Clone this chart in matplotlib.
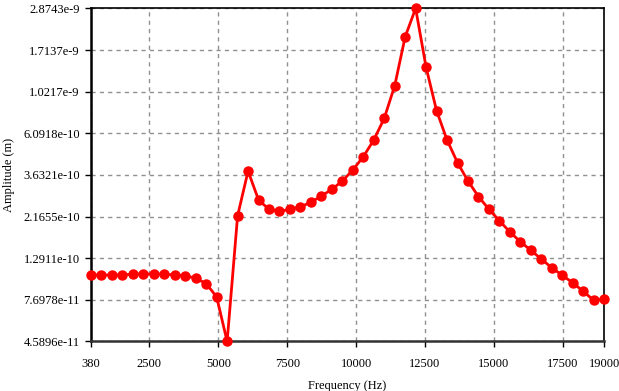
import matplotlib
matplotlib.use("Agg")
import matplotlib.pyplot as plt
import numpy as np

plt.rcParams['font.family'] = ['Liberation Serif', 'DejaVu Serif']

freq = [380 * k for k in range(1, 51)]
amp = [1.048e-10, 1.048e-10, 1.048e-10, 1.048e-10, 1.061e-10, 1.061e-10, 1.061e-10, 1.061e-10,
       1.048e-10, 1.039e-10, 1.006e-10, 9.43e-11, 7.975e-11, 4.5896e-11, 2.188e-10, 3.812e-10,
       2.660e-10, 2.369e-10, 2.311e-10, 2.369e-10, 2.447e-10, 2.584e-10, 2.795e-10, 3.037e-10,
       3.367e-10, 3.860e-10, 4.553e-10, 5.602e-10, 7.334e-10, 1.099e-9, 2.020e-9, 2.8743e-9,
       1.381e-9, 8.059e-10, 5.602e-10, 4.226e-10, 3.367e-10, 2.777e-10, 2.369e-10, 2.057e-10,
       1.788e-10, 1.585e-10, 1.424e-10, 1.278e-10, 1.147e-10, 1.044e-10, 9.525e-11, 8.560e-11,
       7.655e-11, 7.780e-11]

xticks = [380, 2500, 5000, 7500, 10000, 12500, 15000, 17500, 19000]
ytick_labels = ["4.5896e-11", "7.6978e-11", "1.2911e-10", "2.1655e-10", "3.6321e-10",
                "6.0918e-10", "1.0217e-9", "1.7137e-9", "2.8743e-9"]
yticks = [float(s) for s in ytick_labels]

fig = plt.figure(figsize=(6.19, 3.91), dpi=100)
ax = fig.add_axes([0.147, 0.1266, 0.829, 0.852])

ax.plot(freq, amp, color='#ff0000', linewidth=2, marker='o', markersize=6.5,
        markeredgecolor='#ff0000', clip_on=False, zorder=5)

ax.set_yscale('log')
ax.set_xlim(380, 19000)
ax.set_ylim(yticks[0], yticks[-1])
ax.set_yticks(yticks)
ax.set_yticklabels(ytick_labels)
ax.yaxis.set_minor_locator(matplotlib.ticker.NullLocator())
ax.set_xticks(xticks)
ax.set_xticklabels([str(v) for v in xticks])

ax.grid(True, color='#909090', linestyle=(0, (3, 3)), linewidth=1)
for s in ['top', 'right']:
    ax.spines[s].set_linewidth(1.2)
    ax.spines[s].set_color('black')
ax.spines['left'].set_linewidth(1.8)
ax.spines['left'].set_color('black')
ax.spines['bottom'].set_linewidth(1.8)
ax.spines['bottom'].set_color('#333333')

ax.tick_params(axis='both', labelsize=9, length=4, width=1, colors='black', direction='out')
ax.tick_params(axis='x', pad=8)
ax.tick_params(axis='y', pad=4)

ax.set_xlabel('Frequency (Hz)', fontsize=9, labelpad=7)
ax.set_ylabel('Amplitude (m)', fontsize=9, labelpad=6)

fig.savefig('out.png', dpi=100)
